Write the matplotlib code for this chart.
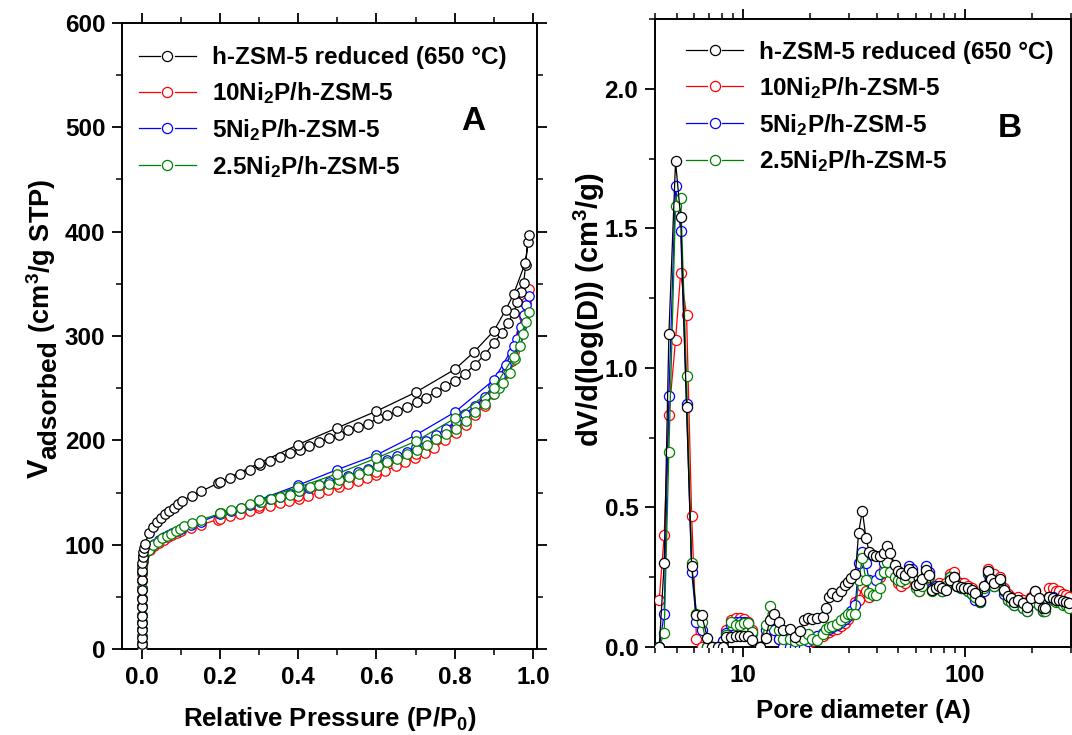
import matplotlib
matplotlib.use("Agg")
import matplotlib.pyplot as plt
from matplotlib.lines import Line2D
from matplotlib.legend_handler import HandlerBase
from matplotlib.transforms import IdentityTransform
from matplotlib.ticker import MultipleLocator, LogLocator, NullFormatter, FixedLocator, FixedFormatter

plt.rcParams['font.family'] = ['Liberation Sans', 'DejaVu Sans']
plt.rcParams['font.weight'] = 'bold'
plt.rcParams['axes.labelweight'] = 'bold'
plt.rcParams['mathtext.fontset'] = 'custom'
plt.rcParams['mathtext.rm'] = 'Liberation Sans:bold'
plt.rcParams['mathtext.bf'] = 'Liberation Sans:bold'
plt.rcParams['mathtext.it'] = 'Liberation Sans:bold'
plt.rcParams['mathtext.default'] = 'rm'

# ---------------- Panel A: N2 isotherms ----------------
labels = ['h-ZSM-5 reduced (650 \u00b0C)', '10Ni$_2$P/h-ZSM-5', '5Ni$_2$P/h-ZSM-5', '2.5Ni$_2$P/h-ZSM-5']
colors = ['#000000', '#ff0000', '#0000ff', '#008000']

p_black = [0.0, 0.0, 0.0001, 0.0001, 0.0002, 0.0003, 0.0004, 0.0006, 0.0008, 0.0011, 0.0015, 0.002, 0.003, 0.0045, 0.0065, 0.0085,
           0.019, 0.030, 0.039, 0.050, 0.060, 0.071, 0.082, 0.093, 0.104, 0.128, 0.151, 0.196, 0.225, 0.252, 0.276, 0.302,
           0.328, 0.354, 0.380, 0.404, 0.428, 0.453, 0.479, 0.503, 0.528, 0.552, 0.578, 0.603, 0.628, 0.652, 0.678, 0.703,
           0.726, 0.751, 0.776, 0.801, 0.826, 0.851, 0.876, 0.900, 0.920, 0.935, 0.950, 0.960, 0.970, 0.976, 0.981, 0.986, 0.990,
           0.980, 0.950, 0.930, 0.900, 0.850, 0.800, 0.700, 0.600, 0.500, 0.400, 0.300, 0.200]
v_black = [0, 5, 11, 18, 25, 32, 40, 48, 57, 66, 75, 82, 88, 93, 97, 101,
           111, 117, 122, 126, 129, 132, 135, 139, 142, 147, 151, 159, 164, 168, 172, 176,
           180, 184, 188, 191, 195, 198, 202, 205, 210, 213, 216, 221, 224, 228, 232, 237,
           241, 246, 252, 257, 264, 272, 282, 293, 303, 312, 322, 333, 342, 351, 368, 390, 397,
           370, 340, 325, 305, 285, 268, 246, 228, 212, 196, 178, 160]

p_red = [0.0, 0.0, 0.0001, 0.0001, 0.0002, 0.0003, 0.0004, 0.0006, 0.0008, 0.0011, 0.0015, 0.002, 0.003, 0.0045, 0.0065, 0.0085,
         0.021, 0.032, 0.044, 0.056, 0.067, 0.078, 0.090, 0.101, 0.126, 0.151, 0.194, 0.225, 0.251, 0.276, 0.301, 0.328,
         0.353, 0.377, 0.402, 0.426, 0.452, 0.477, 0.503, 0.527, 0.552, 0.576, 0.600, 0.623, 0.649, 0.674, 0.698, 0.724,
         0.748, 0.776, 0.804, 0.828, 0.851, 0.876, 0.897, 0.915, 0.930, 0.945, 0.958, 0.968, 0.976, 0.983, 0.990,
         0.950, 0.900, 0.800, 0.700, 0.600, 0.500, 0.400, 0.300, 0.200]
v_red = [0, 6, 12, 19, 26, 33, 41, 49, 57, 65, 72, 78, 83, 87, 90, 92,
         95, 99, 102, 104, 107, 109, 111, 113, 116, 119, 124, 127, 129, 132, 135, 137,
         140, 142, 144, 147, 150, 152, 155, 158, 161, 164, 167, 171, 175, 179, 183, 188,
         193, 200, 207, 215, 224, 233, 244, 255, 265, 276, 290, 303, 318, 333, 345,
         285, 250, 212, 187, 170, 158, 147, 137, 125]

p_blue = [0.0, 0.0, 0.0001, 0.0001, 0.0002, 0.0003, 0.0004, 0.0006, 0.0008, 0.0011, 0.0015, 0.002, 0.003, 0.0045, 0.0065, 0.0085,
          0.021, 0.032, 0.044, 0.056, 0.067, 0.078, 0.090, 0.101, 0.126, 0.151, 0.200, 0.228, 0.253, 0.278, 0.303, 0.329,
          0.354, 0.379, 0.403, 0.428, 0.453, 0.478, 0.503, 0.528, 0.553, 0.578, 0.603, 0.628, 0.652, 0.677, 0.702, 0.727,
          0.752, 0.777, 0.802, 0.827, 0.851, 0.876, 0.898, 0.915, 0.930, 0.945, 0.958, 0.968, 0.976, 0.983, 0.990,
          0.950, 0.900, 0.800, 0.700, 0.600, 0.500, 0.400, 0.300, 0.200]
v_blue = [0, 6, 12, 19, 26, 33, 41, 49, 58, 66, 74, 80, 85, 89, 92, 94,
          97, 101, 104, 107, 109, 111, 113, 115, 119, 122, 129, 132, 135, 138, 141, 144,
          146, 149, 151, 154, 157, 160, 163, 166, 170, 173, 177, 181, 185, 189, 194, 199,
          205, 211, 218, 225, 233, 242, 252, 262, 272, 284, 297, 309, 320, 330, 338,
          290, 258, 227, 205, 186, 172, 157, 143, 130]

p_green = [0.0, 0.0, 0.0001, 0.0001, 0.0002, 0.0003, 0.0004, 0.0006, 0.0008, 0.0011, 0.0015, 0.002, 0.003, 0.0045, 0.0065, 0.0085,
           0.019, 0.030, 0.041, 0.053, 0.064, 0.076, 0.088, 0.099, 0.108, 0.130, 0.153, 0.202, 0.229, 0.254, 0.278, 0.304,
           0.330, 0.354, 0.379, 0.402, 0.430, 0.454, 0.479, 0.505, 0.530, 0.555, 0.579, 0.603, 0.628, 0.652, 0.678, 0.703,
           0.728, 0.753, 0.778, 0.804, 0.828, 0.851, 0.876, 0.900, 0.913, 0.924, 0.940, 0.955, 0.966, 0.975, 0.983, 0.990,
           0.950, 0.900, 0.800, 0.700, 0.600, 0.500, 0.400, 0.300, 0.200]
v_green = [0, 6, 12, 19, 26, 33, 41, 49, 58, 66, 74, 80, 85, 88, 91, 92,
           95, 100, 103, 106, 108, 110, 113, 115, 118, 121, 124, 130, 133, 135, 139, 141,
           144, 146, 148, 151, 155, 157, 158, 162, 165, 168, 172, 175, 179, 182, 187, 191,
           196, 201, 206, 211, 219, 227, 235, 244, 250, 255, 265, 278, 290, 302, 313, 323,
           280, 250, 221, 199, 183, 168, 155, 143, 130]

# ---------------- Panel B: pore size distributions ----------------
pore_d = [4.18, 4.40, 4.62, 4.95, 5.22, 5.55, 5.85, 6.15, 6.50, 6.88,
          7.26, 7.70, 8.10, 8.40, 8.80, 9.27, 9.70, 10.1, 10.5, 11.0,
          11.9, 12.6, 13.2, 13.8, 14.5, 15.1, 16.2, 17.1, 18.1, 18.8,
          19.6, 20.4, 21.5, 22.8, 23.6, 24.4, 25.2, 26.5, 27.7, 28.7,
          29.6, 30.7, 32.0, 33.1, 34.4, 35.7, 36.9, 38.5, 39.8, 41.5,
          43.0, 44.5, 46.0, 48.1, 49.8, 51.5, 53.7, 55.8, 57.8, 59.9,
          61.8, 64.1, 66.4, 68.7, 71.1, 73.6, 76.2, 78.9, 82.2, 85.6,
          88.7, 91.7, 95.9, 99.3, 103.5, 107.2, 110.9, 117.2, 121.4, 126.5,
          130.9, 135.5, 143.6, 150.2, 155.5, 161.0, 166.7, 173.8, 181.7, 190.2,
          198.2, 207.0, 214.3, 223.4, 229.7, 239.4, 247.8, 256.5, 265.5, 274.9,
          284.6, 294.6]
psd_black = [0.0, 0.30, 1.12, 1.74, 1.54, 0.86, 0.29, 0.114, 0.114, 0.034,
             0.0, 0.0, 0.0, 0.036, 0.036, 0.038, 0.038, 0.038, 0.038, 0.026,
             0.0, 0.034, 0.096, 0.12, 0.089, 0.06, 0.066, 0.036, 0.058, 0.098,
             0.105, 0.10, 0.104, 0.108, 0.14, 0.18, 0.195, 0.182, 0.20, 0.222,
             0.234, 0.246, 0.26, 0.41, 0.489, 0.392, 0.342, 0.33, 0.327, 0.327,
             0.338, 0.362, 0.338, 0.294, 0.273, 0.264, 0.258, 0.278, 0.27, 0.222,
             0.225, 0.242, 0.276, 0.258, 0.204, 0.21, 0.218, 0.21, 0.206, 0.24,
             0.252, 0.218, 0.216, 0.213, 0.21, 0.204, 0.192, 0.165, 0.218, 0.273,
             0.242, 0.228, 0.242, 0.206, 0.182, 0.174, 0.162, 0.17, 0.156, 0.144,
             0.174, 0.20, 0.174, 0.138, 0.138, 0.18, 0.174, 0.17, 0.168, 0.165,
             0.162, 0.158]
psd_red = [0.17, 0.40, 0.83, 1.10, 1.34, 1.19, 0.47, 0.03, 0.0, 0.0,
           0.0, 0.0, 0.02, 0.06, 0.095, 0.105, 0.105, 0.10, 0.09, 0.06,
           0.0, 0.04, 0.08, 0.07, 0.03, 0.0, 0.0, 0.0, 0.0, 0.0,
           0.01, 0.02, 0.03, 0.04, 0.05, 0.055, 0.06, 0.065, 0.075, 0.085,
           0.10, 0.12, 0.16, 0.17, 0.22, 0.20, 0.18, 0.20, 0.22, 0.25,
           0.28, 0.30, 0.28, 0.25, 0.23, 0.22, 0.23, 0.26, 0.27, 0.22,
           0.20, 0.24, 0.28, 0.26, 0.22, 0.22, 0.23, 0.22, 0.23, 0.26,
           0.27, 0.23, 0.23, 0.23, 0.22, 0.21, 0.19, 0.17, 0.22, 0.28,
           0.26, 0.26, 0.25, 0.21, 0.19, 0.18, 0.17, 0.18, 0.17, 0.16,
           0.18, 0.20, 0.17, 0.15, 0.17, 0.21, 0.21, 0.20, 0.20, 0.19,
           0.185, 0.18]
psd_blue = [0.0, 0.12, 0.90, 1.65, 1.49, 0.87, 0.27, 0.09, 0.06, 0.0,
            0.0, 0.0, 0.02, 0.05, 0.08, 0.09, 0.09, 0.09, 0.085, 0.05,
            0.0, 0.06, 0.09, 0.06, 0.03, 0.0, 0.0, 0.0, 0.0, 0.0,
            0.02, 0.03, 0.04, 0.05, 0.06, 0.065, 0.07, 0.08, 0.09, 0.10,
            0.11, 0.13, 0.15, 0.30, 0.34, 0.30, 0.24, 0.22, 0.24, 0.26,
            0.30, 0.31, 0.29, 0.27, 0.25, 0.24, 0.25, 0.29, 0.28, 0.22,
            0.21, 0.24, 0.29, 0.27, 0.21, 0.22, 0.21, 0.20, 0.21, 0.25,
            0.25, 0.22, 0.21, 0.21, 0.20, 0.19, 0.17, 0.16, 0.20, 0.26,
            0.24, 0.22, 0.23, 0.19, 0.17, 0.16, 0.15, 0.16, 0.14, 0.13,
            0.16, 0.19, 0.15, 0.13, 0.14, 0.18, 0.18, 0.17, 0.16, 0.16,
            0.15, 0.15]
psd_green = [0.0, 0.05, 0.70, 1.58, 1.61, 0.97, 0.30, 0.12, 0.09, 0.0,
             0.0, 0.0, 0.0, 0.044, 0.09, 0.078, 0.078, 0.086, 0.086, 0.054,
             0.0, 0.08, 0.147, 0.10, 0.06, 0.03, 0.03, 0.02, 0.024, 0.03,
             0.048, 0.03, 0.024, 0.048, 0.066, 0.07, 0.076, 0.084, 0.096, 0.108,
             0.12, 0.12, 0.12, 0.24, 0.318, 0.24, 0.192, 0.186, 0.186, 0.213,
             0.27, 0.306, 0.27, 0.252, 0.24, 0.237, 0.242, 0.26, 0.25, 0.21,
             0.20, 0.22, 0.27, 0.25, 0.20, 0.21, 0.21, 0.20, 0.22, 0.25,
             0.25, 0.22, 0.21, 0.21, 0.20, 0.19, 0.18, 0.16, 0.21, 0.27,
             0.24, 0.22, 0.24, 0.20, 0.17, 0.16, 0.15, 0.16, 0.14, 0.13,
             0.16, 0.19, 0.15, 0.13, 0.13, 0.18, 0.17, 0.16, 0.16, 0.15,
             0.15, 0.14]

iso_p = [p_black, p_red, p_blue, p_green]
iso_v = [v_black, v_red, v_blue, v_green]
psd_v = [psd_black, psd_red, psd_blue, psd_green]
zorders = [6, 3, 4, 5]

fig = plt.figure(figsize=(10.72, 7.35), dpi=100)
W, H = 1072, 735
axA = fig.add_axes([122 / W, 1 - 649 / H, (537 - 122) / W, (649 - 23) / H])
axB = fig.add_axes([655 / W, 1 - 647 / H, (1071 - 655) / W, (647 - 19) / H])

tick_fs = 17.5
for ax in (axA, axB):
    for s in ax.spines.values():
        s.set_linewidth(1.4)
    ax.tick_params(which='major', direction='out', length=7, width=1.3, labelsize=tick_fs, pad=5,
                   top=True, right=True)
    ax.tick_params(which='minor', direction='out', length=4, width=1.1, top=True, right=True)

mk = dict(marker='o', markerfacecolor='white', linewidth=0.9, markeredgewidth=0.9)
for i in range(4):
    axA.plot(iso_p[i], iso_v[i], color=colors[i], markeredgecolor=colors[i], markersize=6.8,
             zorder=zorders[i], **mk)
    axB.plot(pore_d, psd_v[i], color=colors[i], markeredgecolor=colors[i], markersize=7.3,
             zorder=zorders[i], **mk)


class GapLineHandler(HandlerBase):
    """Legend key drawn as: line segment - gap - open circle - gap - line segment."""
    def create_artists(self, legend, orig_handle, xdescent, ydescent, width, height, fontsize, trans):
        c = orig_handle.get_color()
        y = height / 2.0 - ydescent
        x0 = -xdescent
        x1 = x0 + width
        xm = 0.5 * (x0 + x1)
        g = 0.13 * width
        l1 = Line2D([x0, xm - g], [y, y], color=c, lw=0.9, transform=trans)
        l2 = Line2D([xm + g, x1], [y, y], color=c, lw=0.9, transform=trans)
        m = Line2D([xm], [y], ls='none', marker='o', markersize=7.3, markerfacecolor='white',
                   markeredgecolor=c, markeredgewidth=0.9, transform=trans)
        return [l1, l2, m]


leg_fs = 17.5
proxies = [Line2D([], [], color=c) for c in colors]


def add_legend(ax, anchor):
    leg = ax.legend(handles=proxies, labels=labels, loc='upper left', bbox_to_anchor=anchor, frameon=False,
                    fontsize=leg_fs, handlelength=2.35, handletextpad=0.65, labelspacing=0.45, borderpad=0,
                    borderaxespad=0, handler_map={Line2D: GapLineHandler()})
    for t in leg.get_texts():
        t.set_fontweight('bold')
    return leg


# Panel A axes
axA.set_xlim(-0.05, 1.01)
axA.set_ylim(0, 600)
axA.xaxis.set_major_locator(MultipleLocator(0.2))
axA.xaxis.set_minor_locator(MultipleLocator(0.1))
axA.yaxis.set_major_locator(MultipleLocator(100))
axA.yaxis.set_minor_locator(MultipleLocator(50))
axA.tick_params(labeltop=False, labelright=False)
axA.set_xlabel('Relative Pressure (P/P$_0$)', fontsize=18.5, fontweight='bold', labelpad=12)
axA.text(0.846, 0.843, 'A', transform=axA.transAxes, fontsize=24, fontweight='bold', ha='center', va='center')
add_legend(axA, (0.04, 0.963))

# Panel B axes
axB.set_xscale('log')
axB.set_xlim(4, 300)
axB.set_ylim(0, 2.25)
axB.xaxis.set_major_locator(FixedLocator([10, 100]))
axB.xaxis.set_major_formatter(FixedFormatter(['10', '100']))
axB.xaxis.set_minor_locator(LogLocator(base=10, subs=[2, 3, 4, 5, 6, 7, 8, 9]))
axB.xaxis.set_minor_formatter(NullFormatter())
axB.yaxis.set_major_locator(MultipleLocator(0.5))
axB.yaxis.set_minor_locator(MultipleLocator(0.25))
axB.tick_params(labeltop=False, labelright=False)
axB.set_xlabel('Pore diameter (A)', fontsize=18.5, fontweight='bold', labelpad=9)
axB.set_ylabel('dV/d(log(D)) (cm$^3$/g)', fontsize=21, fontweight='bold')
axB.yaxis.set_label_coords(-0.115, 0.537)
axB.text(0.853, 0.826, 'B', transform=axB.transAxes, fontsize=24, fontweight='bold', ha='center', va='center')
add_legend(axB, (0.075, 0.965))

for lab in axA.get_xticklabels() + axA.get_yticklabels() + axB.get_xticklabels() + axB.get_yticklabels():
    lab.set_fontweight('bold')

# Left y label built from pieces: large "V", lowered "adsorbed", then units
renderer = fig.canvas.get_renderer()
pieces = [('V', 21, 48), ('adsorbed', 19, 56), (' (cm$^3$/g STP)', 19.5, 50)]
y_cur = H - 478
for txt, fs, xb in pieces:
    t = fig.text(xb, y_cur, txt, transform=IdentityTransform(), rotation=90, rotation_mode='anchor',
                 ha='left', va='baseline', fontsize=fs, fontweight='bold')
    bb = t.get_window_extent(renderer)
    y_cur = bb.y1

fig.savefig('out.png', dpi=100)
